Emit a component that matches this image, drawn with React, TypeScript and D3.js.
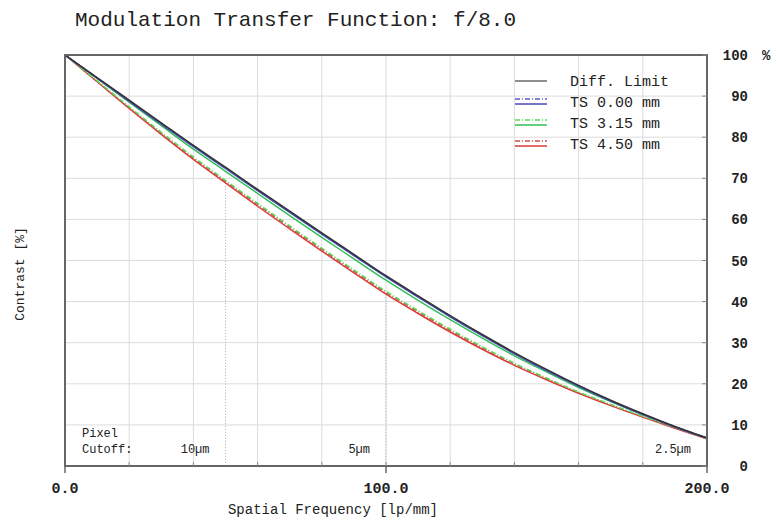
import * as d3 from "d3";

const W = 776;
const H = 524;
const M = { left: 65, right: 69, top: 55, bottom: 58 };
const FONT = "'Liberation Mono', 'DejaVu Sans Mono', monospace";

// spatial frequency samples [lp/mm]
const freqs = [0, 10, 20, 30, 40, 50, 60, 70, 80, 90, 100, 110, 120, 130, 140, 150, 160, 170, 180, 190, 200];

// contrast [%]
const diffLimit = [100, 94.5, 89.0, 83.5, 78.0, 72.7, 67.3, 62.0, 56.7, 51.5, 46.3, 41.4, 36.6, 32.0, 27.6, 23.5, 19.6, 16.0, 12.7, 9.6, 6.8];
const ts000T = [100, 94.4, 88.8, 83.3, 77.8, 72.5, 67.1, 61.8, 56.5, 51.3, 46.1, 41.2, 36.4, 31.8, 27.4, 23.3, 19.5, 15.9, 12.6, 9.6, 6.8];
const ts000S = [100, 94.4, 88.7, 83.2, 77.7, 72.4, 67.0, 61.7, 56.4, 51.2, 46.0, 41.1, 36.3, 31.7, 27.3, 23.2, 19.4, 15.8, 12.5, 9.5, 6.8];
const ts315T = [100, 93.7, 87.4, 81.2, 75.2, 69.5, 63.9, 58.4, 53.0, 47.7, 42.5, 37.8, 33.3, 29.0, 25.0, 21.4, 18.0, 15.0, 12.1, 9.4, 6.7];
const ts315S = [100, 94.3, 88.5, 82.8, 77.1, 71.7, 66.3, 60.9, 55.6, 50.4, 45.2, 40.3, 35.6, 31.1, 26.8, 22.9, 19.1, 15.7, 12.5, 9.5, 6.8];
const ts450T = [100, 93.6, 87.2, 80.9, 74.9, 69.2, 63.6, 58.1, 52.7, 47.4, 42.2, 37.5, 33.0, 28.8, 24.8, 21.3, 17.9, 14.9, 12.0, 9.3, 6.7];
const ts450S = [100, 93.5, 87.0, 80.7, 74.6, 68.9, 63.2, 57.7, 52.3, 47.0, 41.8, 37.1, 32.6, 28.4, 24.5, 21.0, 17.7, 14.7, 11.9, 9.2, 6.6];

const xTickLabels = [0, 100, 200];
const yTicks = [0, 10, 20, 30, 40, 50, 60, 70, 80, 90, 100];

const pixelCutoffs = [
  { freq: 50, label: "10µm" },
  { freq: 100, label: "5µm" },
  { freq: 200, label: "2.5µm" },
];

const legendItems = [
  { label: "Diff. Limit", color: "#444444", t: null },
  { label: "TS 0.00 mm", color: "#4a4ab8", t: "#5a5ac8" },
  { label: "TS 3.15 mm", color: "#2fbf55", t: "#55dd55" },
  { label: "TS 4.50 mm", color: "#dd3a3a", t: "#d05050" },
];

// drawing order: red, green, blue, diff limit on top
const series = [
  { values: ts450S, color: "#dd3a3a", dash: "" },
  { values: ts450T, color: "#d05050", dash: "5,2,1,2" },
  { values: ts315T, color: "#55dd55", dash: "5,2,1,2" },
  { values: ts315S, color: "#2fbf55", dash: "" },
  { values: ts000T, color: "#5a5ac8", dash: "5,2,1,2" },
  { values: ts000S, color: "#4a4ab8", dash: "" },
  { values: diffLimit, color: "#333333", dash: "" },
];

export default function App() {
  const iw = W - M.left - M.right;
  const ih = H - M.top - M.bottom;

  const x = d3.scaleLinear().domain([0, 200]).range([0, iw]);
  const y = d3.scaleLinear().domain([0, 100]).range([ih, 0]);

  const line = d3
    .line<number>()
    .x((_, i) => x(freqs[i]))
    .y((v) => y(v))
    .curve(d3.curveMonotoneX);

  const lowest = d3.scaleLinear().domain(freqs).range(ts450S);

  return (
    <svg
      width={W}
      height={H}
      style={{ position: "absolute", left: 0, top: 0, background: "#fff" }}
      fontFamily={FONT}
    >
      <text x={75} y={26} fontSize={21} fill="#222">
        Modulation Transfer Function: f/8.0
      </text>

      <g transform={`translate(${M.left}, ${M.top})`}>
        {/* grid */}
        {d3.range(20, 200, 20).map((f) => (
          <line key={"gx" + f} x1={x(f)} x2={x(f)} y1={0} y2={ih} stroke="#dcdcdc" />
        ))}
        {d3.range(10, 100, 10).map((v) => (
          <line key={"gy" + v} x1={0} x2={iw} y1={y(v)} y2={y(v)} stroke="#dcdcdc" />
        ))}

        {/* pixel cutoff markers */}
        {pixelCutoffs.map((p) => (
          <g key={p.label}>
            {p.freq < 200 && (
              <line
                x1={x(p.freq)}
                x2={x(p.freq)}
                y1={y(lowest(p.freq))}
                y2={ih}
                stroke="#aaaaaa"
                strokeDasharray="1,2"
              />
            )}
            <text x={x(p.freq) - 16} y={ih - 13} fontSize={12} textAnchor="end" fill="#222">
              {p.label}
            </text>
          </g>
        ))}
        <text x={17} y={ih - 29} fontSize={12} fill="#222">Pixel</text>
        <text x={17} y={ih - 13} fontSize={12} fill="#222">Cutoff:</text>

        {/* curves */}
        {series.map((s, i) => (
          <path
            key={i}
            d={line(s.values) ?? undefined}
            fill="none"
            stroke={s.color}
            strokeWidth={1.5}
            strokeDasharray={s.dash || undefined}
          />
        ))}

        {/* frame */}
        <rect x={0} y={0} width={iw} height={ih} fill="none" stroke="#666" strokeWidth={2} />

        {/* x ticks */}
        {d3.range(20, 200, 20).map((f) => (
          <line key={"mx" + f} x1={x(f)} x2={x(f)} y1={ih} y2={ih - 4} stroke="#888" />
        ))}
        {xTickLabels.map((f) => (
          <g key={"tx" + f}>
            <line x1={x(f)} x2={x(f)} y1={ih} y2={ih + 7} stroke="#666" strokeWidth={1.5} />
            <text
              x={x(f)}
              y={ih + 27}
              fontSize={15}
              fontWeight="bold"
              textAnchor="middle"
              fill="#222"
            >
              {f.toFixed(1)}
            </text>
          </g>
        ))}

        {/* y ticks on right */}
        {yTicks.map((v) => (
          <g key={"ty" + v}>
            <line x1={iw} x2={iw - 5} y1={y(v)} y2={y(v)} stroke="#888" />
            <text
              x={iw + 41}
              y={y(v) + 5}
              fontSize={14}
              fontWeight="bold"
              textAnchor="end"
              fill="#222"
            >
              {v}
            </text>
          </g>
        ))}
        <text x={iw + 55} y={y(100) + 5} fontSize={14} fontWeight="bold" fill="#222">%</text>

        {/* legend */}
        {legendItems.map((it, i) => {
          const ly = 26 + i * 21;
          return (
            <g key={it.label}>
              {it.t ? (
                <>
                  <line x1={450} x2={482} y1={ly - 3} y2={ly - 3} stroke={it.t} strokeWidth={1.5} strokeDasharray="5,2,1,2" />
                  <line x1={450} x2={482} y1={ly + 2} y2={ly + 2} stroke={it.color} strokeWidth={1.5} />
                </>
              ) : (
                <line x1={450} x2={482} y1={ly} y2={ly} stroke={it.color} strokeWidth={1.2} />
              )}
              <text x={505} y={ly + 5} fontSize={15} fill="#222">
                {it.label}
              </text>
            </g>
          );
        })}
      </g>

      <text x={333} y={514} fontSize={14} textAnchor="middle" fill="#222">
        Spatial Frequency [lp/mm]
      </text>
      <text
        transform={`translate(24, 274) rotate(-90)`}
        fontSize={13}
        textAnchor="middle"
        fill="#222"
      >
        Contrast [%]
      </text>
    </svg>
  );
}
